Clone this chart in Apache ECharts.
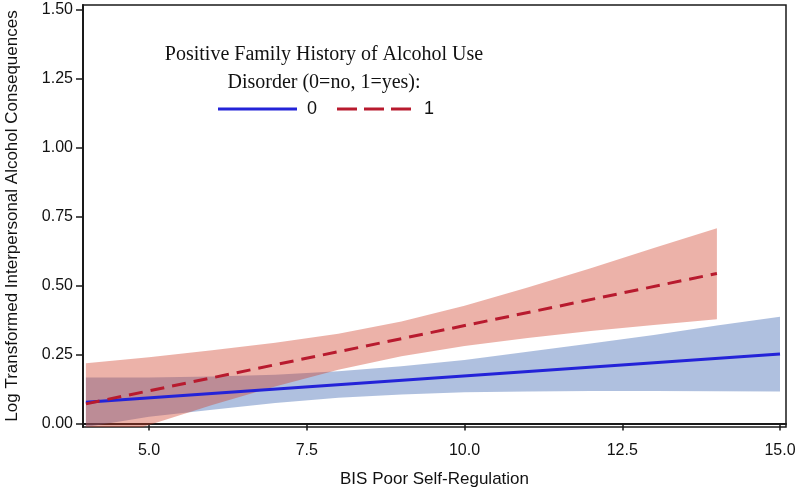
<!DOCTYPE html>
<html>
<head>
<meta charset="utf-8">
<script src="https://cdn.jsdelivr.net/npm/echarts@6/dist/echarts.min.js"></script>
<style>
  html, body { margin: 0; padding: 0; background: #fff; }
  #chart { width: 800px; height: 490px; }
</style>
</head>
<body>
<div id="chart"></div>
<script>
// tick labels
const xTicks = [5, 7.5, 10, 12.5, 15];
const yTicks = [0, 0.25, 0.5, 0.75, 1.0, 1.25, 1.5];

// group 0 (no family history): fitted line + 95% band
const fitX0 = [4, 15];
const fitY0 = [0.077, 0.252];
const bandX0 = [4, 5, 6, 7, 8, 9, 10, 11, 12, 13, 14, 15];
const upper0 = [0.167, 0.167, 0.170, 0.177, 0.189, 0.207, 0.230, 0.260, 0.290, 0.321, 0.355, 0.387];
const lower0 = [-0.013, 0.024, 0.050, 0.074, 0.093, 0.105, 0.113, 0.116, 0.118, 0.118, 0.117, 0.116];

// group 1 (positive family history)
const fitX1 = [4, 14];
const fitY1 = [0.071, 0.544];
const bandX1 = [4, 5, 6, 7, 8, 9, 10, 11, 12, 13, 14];
const upper1 = [0.218, 0.240, 0.265, 0.293, 0.325, 0.370, 0.427, 0.493, 0.563, 0.636, 0.708];
const lower1 = [-0.076, -0.006, 0.067, 0.134, 0.195, 0.244, 0.281, 0.310, 0.335, 0.357, 0.378];

const blue = "#2323d8";
const red = "#b81a2e";
const sans = "Liberation Sans";

function bandSeries(xs, lo, hi, fill) {
  return {
    type: "custom",
    clip: true,
    silent: true,
    z: 1,
    data: xs.map((x, i) => [x, lo[i], hi[i]]),
    encode: { x: 0, y: [1, 2] },
    renderItem: function(params, api) {
      // whole band as one polygon
      if (params.dataIndex !== 0) return null;
      const top = xs.map((x, i) => api.coord([x, hi[i]]));
      const bot = xs.map((x, i) => api.coord([x, lo[i]])).reverse();
      return {
        type: "polygon",
        shape: { points: top.concat(bot) },
        style: { fill: fill }
      };
    }
  };
}

const chart = echarts.init(document.getElementById("chart"));

chart.setOption({
  animation: false,
  backgroundColor: "#fff",
  grid: {
    left: 83,
    right: 14,
    top: 5,
    bottom: 63,
    outerBoundsMode: "none",
    show: true,
    borderColor: "#1a1a1a",
    borderWidth: 1.5
  },
  xAxis: {
    type: "value",
    min: 3.954,
    max: 15.095,
    name: "BIS Poor Self-Regulation",
    nameLocation: "middle",
    nameGap: 44,
    nameTextStyle: { fontFamily: sans, fontSize: 17, color: "#111" },
    axisLine: { show: true, lineStyle: { color: "#1a1a1a", width: 2 } },
    axisTick: { show: true, length: 7, customValues: xTicks, lineStyle: { color: "#1a1a1a", width: 1.5 } },
    axisLabel: {
      customValues: xTicks,
      formatter: v => v.toFixed(1),
      fontFamily: sans,
      fontSize: 16,
      color: "#111",
      margin: 16
    },
    splitLine: { show: false }
  },
  yAxis: {
    type: "value",
    min: -0.013,
    max: 1.518,
    name: "Log Transformed Interpersonal Alcohol Consequences",
    nameLocation: "middle",
    nameGap: 62,
    nameTextStyle: { fontFamily: sans, fontSize: 17, color: "#111" },
    axisLine: { show: true, lineStyle: { color: "#1a1a1a", width: 2 } },
    axisTick: { show: true, length: 7, customValues: yTicks, lineStyle: { color: "#1a1a1a", width: 1.5 } },
    axisLabel: {
      customValues: yTicks,
      formatter: v => v.toFixed(2),
      fontFamily: sans,
      fontSize: 16,
      color: "#111",
      margin: 10
    },
    splitLine: { show: false }
  },
  series: [
    bandSeries(bandX0, lower0, upper0, "rgba(55,98,175,0.4)"),
    bandSeries(bandX1, lower1, upper1, "rgba(208,62,40,0.4)"),
    {
      name: "0",
      type: "line",
      z: 3,
      symbol: "none",
      data: fitX0.map((x, i) => [x, fitY0[i]]),
      lineStyle: { color: blue, width: 3 }
    },
    {
      name: "1",
      type: "line",
      z: 3,
      symbol: "none",
      data: fitX1.map((x, i) => [x, fitY1[i]]),
      lineStyle: { color: red, width: 3, type: [14, 8] }
    }
  ],
  graphic: [
    {
      type: "text",
      x: 324,
      y: 41,
      style: {
        text: "Positive Family History of Alcohol Use\nDisorder (0=no, 1=yes):",
        font: '20px "Liberation Serif"',
        lineHeight: 28,
        textAlign: "center",
        fill: "#111"
      }
    },
    {
      type: "line",
      shape: { x1: 218, y1: 109, x2: 297, y2: 109 },
      style: { stroke: blue, lineWidth: 3 }
    },
    {
      type: "text",
      x: 307,
      y: 109,
      style: { text: "0", font: '18px "Liberation Sans"', textVerticalAlign: "middle", fill: "#111" }
    },
    {
      type: "line",
      shape: { x1: 337, y1: 109, x2: 412, y2: 109 },
      style: { stroke: red, lineWidth: 3, lineDash: [20, 7] }
    },
    {
      type: "text",
      x: 424,
      y: 109,
      style: { text: "1", font: '18px "Liberation Sans"', textVerticalAlign: "middle", fill: "#111" }
    }
  ]
});
</script>
</body>
</html>
